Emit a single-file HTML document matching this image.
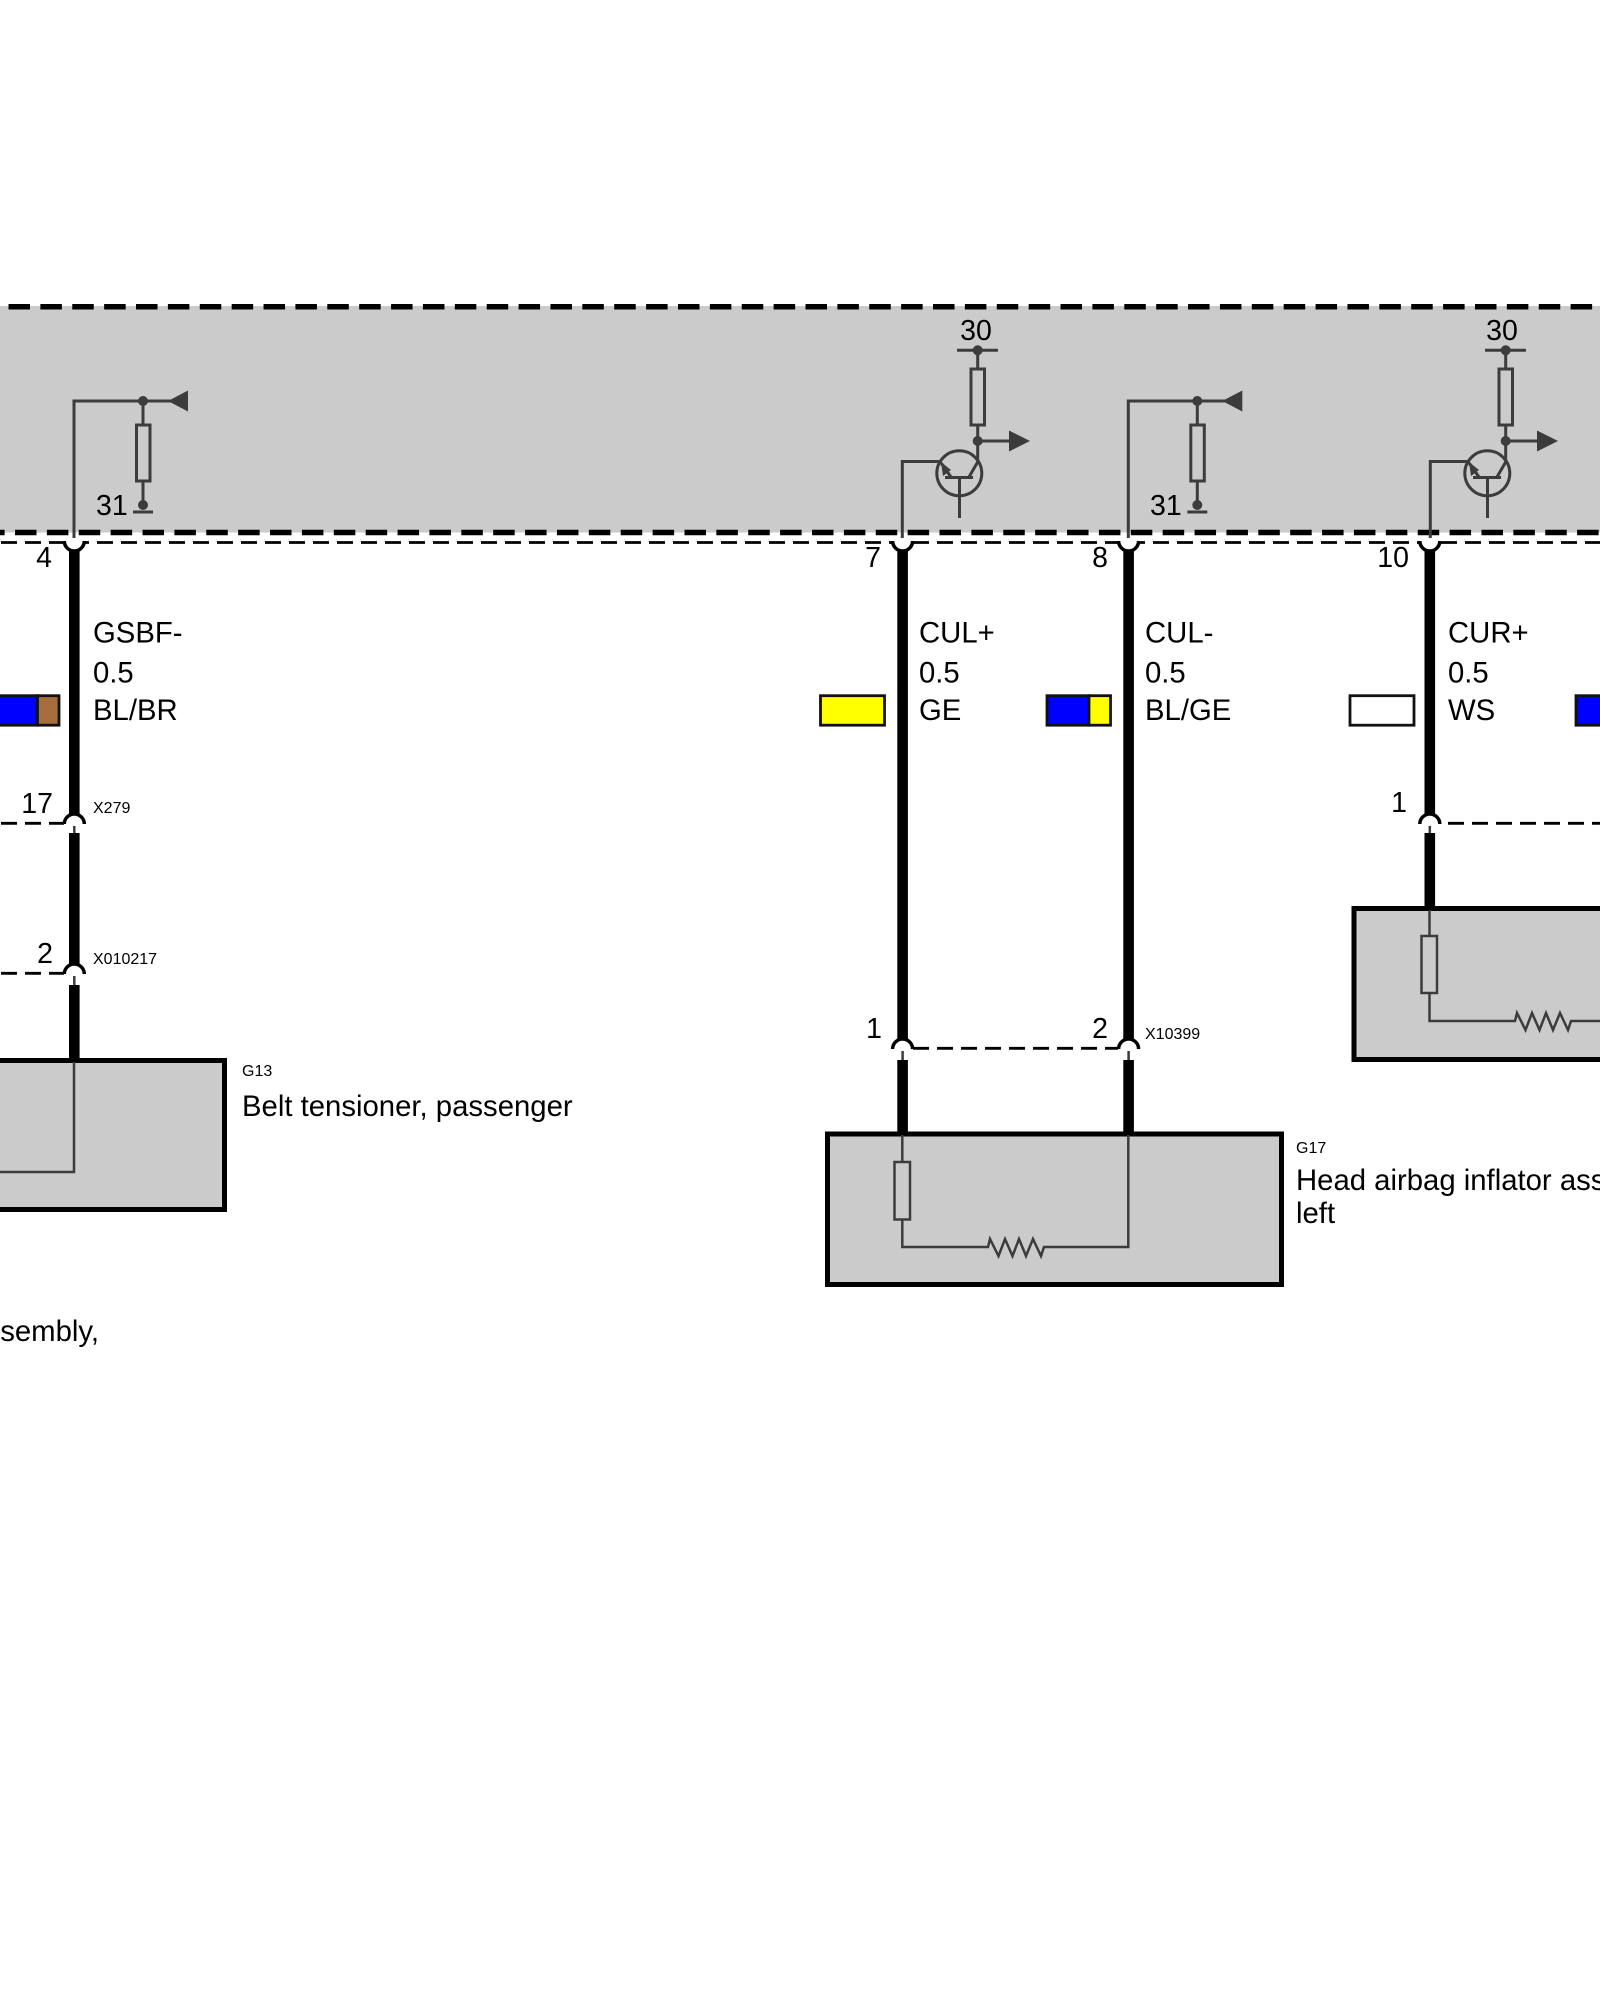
<!DOCTYPE html>
<html><head><meta charset="utf-8"><style>
html,body{margin:0;padding:0;background:#fff}
svg{display:block}
text{font-family:"Liberation Sans",sans-serif;fill:#000}
.l{font-size:29.300px}.p{font-size:28.500px}.s{font-size:16px}
</style></head><body>
<svg width="1600" height="2000" viewBox="0 0 1600 2000" xmlns="http://www.w3.org/2000/svg">
<defs>
<g id="pull" fill="none" stroke="#3c3c3c" stroke-width="3">
<path d="M74 538V401H172"/>
<path d="M143 401V425M143 481V505M133 512H153"/>
<rect x="136.500" y="425" width="13.500" height="56"/>
<circle cx="143" cy="401" r="5" fill="#3c3c3c" stroke="none"/>
<circle cx="143" cy="505" r="5" fill="#3c3c3c" stroke="none"/>
<path d="M168 401L188 390.500V411.500Z" fill="#3c3c3c" stroke="none"/>
</g>
<g id="trans" fill="none" stroke="#3c3c3c" stroke-width="3">
<path d="M902.300 538V461.500H940L951 477"/>
<path d="M957 350.300H998M977.700 350V369M977.700 425V462L969 477M945 477.500H973M959.500 477V518M977.700 441H1012"/>
<rect x="971" y="369" width="13.500" height="56"/>
<circle cx="959.300" cy="473.300" r="22.500"/>
<circle cx="977.700" cy="350.300" r="5" fill="#3c3c3c" stroke="none"/>
<circle cx="977.700" cy="441" r="5" fill="#3c3c3c" stroke="none"/>
<path d="M1030 441L1009 430.500V451.500Z" fill="#3c3c3c" stroke="none"/>
<path d="M941 462L951 470L943 476Z" fill="#3c3c3c" stroke="none"/>
</g>
<g id="top">
<rect x="65" y="536" width="18.600" height="12" fill="#fff"/>
<path d="M64.300 541A10 10 0 0 0 84.300 541" fill="#fff" stroke="#000" stroke-width="3.500"/>
</g>
<path id="arch" d="M64.300 824A10 10 0 0 1 84.300 824" fill="none" stroke="#000" stroke-width="3.500"/>
</defs>

<rect x="0" y="306" width="1600" height="226.500" fill="#cbcbcb"/>
<path d="M0 306.700H1600" stroke="#000" stroke-width="5.500" stroke-dasharray="21.500 10.380" stroke-dashoffset="23.380"/>
<path d="M0 532.500H1600" stroke="#000" stroke-width="5.500" stroke-dasharray="21.500 10.380" stroke-dashoffset="16.880"/>
<path d="M0 542.500H1600" stroke="#000" stroke-width="2.800" stroke-dasharray="16 8" stroke-dashoffset="-1"/>

<use href="#top"/>
<use href="#top" x="828.300"/>
<use href="#top" x="1054.300"/>
<use href="#top" x="1355.500"/>

<use href="#pull"/>
<use href="#pull" x="1054.300"/>
<use href="#trans"/>
<use href="#trans" x="528"/>
<text class="p" x="96" y="515">31</text>
<text class="p" x="1150" y="515">31</text>
<text class="p" x="976" y="340" text-anchor="middle">30</text>
<text class="p" x="1502" y="340" text-anchor="middle">30</text>

<!-- wire 4 -->
<g>
<rect x="69" y="551" width="10.600" height="263" fill="#000"/>
<path d="M0 823.300H64" stroke="#000" stroke-width="2.800" stroke-dasharray="16 8" stroke-dashoffset="-1"/>
<use href="#arch"/>
<path d="M74.300 826V834" stroke="#3c3c3c" stroke-width="2.500"/>
<rect x="69" y="833" width="10.600" height="131" fill="#000"/>
<path d="M0 973.300H64" stroke="#000" stroke-width="2.800" stroke-dasharray="16 8" stroke-dashoffset="-1"/>
<use href="#arch" y="150"/>
<path d="M74.300 976V986" stroke="#3c3c3c" stroke-width="2.500"/>
<rect x="69" y="985" width="10.600" height="75" fill="#000"/>
<rect x="-10" y="1060.500" width="234.500" height="149" fill="#cbcbcb" stroke="#000" stroke-width="5"/>
<path d="M74 1062V1172H0" fill="none" stroke="#3c3c3c" stroke-width="2.500"/>
</g>

<!-- wire 7 and 8 -->
<g>
<rect x="897.300" y="551" width="10.600" height="488" fill="#000"/>
<rect x="1123.300" y="551" width="10.600" height="488" fill="#000"/>
<path d="M913 1048.300H1118" stroke="#000" stroke-width="2.800" stroke-dasharray="16 8"/>
<use href="#arch" x="828.300" y="225"/>
<use href="#arch" x="1054.300" y="225"/>
<path d="M902.600 1051V1061M1128.600 1051V1061" stroke="#3c3c3c" stroke-width="2.500"/>
<rect x="897.300" y="1060" width="10.600" height="73" fill="#000"/>
<rect x="1123.300" y="1060" width="10.600" height="73" fill="#000"/>
<rect x="827.500" y="1134" width="454" height="150.500" fill="#cbcbcb" stroke="#000" stroke-width="5"/>
<g fill="none" stroke="#3c3c3c" stroke-width="2.500">
<path d="M902.300 1135V1162M902.300 1219.500V1247H988L990 1239L998.500 1256L1005 1239L1012.500 1256L1019 1239L1026 1256L1033 1239L1041 1256L1044 1247H1128.300V1135"/>
<rect x="894.500" y="1162" width="15.500" height="57.500"/>
</g>
</g>

<!-- wire 10 -->
<g>
<rect x="1424.500" y="551" width="10.600" height="263" fill="#000"/>
<use href="#arch" x="1355.500"/>
<path d="M1440 823.300H1600" stroke="#000" stroke-width="2.800" stroke-dasharray="16 8" stroke-dashoffset="-8"/>
<path d="M1429.800 826V834" stroke="#3c3c3c" stroke-width="2.500"/>
<rect x="1424.500" y="833" width="10.600" height="75" fill="#000"/>
<rect x="1354" y="908.500" width="300" height="151" fill="#cbcbcb" stroke="#000" stroke-width="5"/>
<g fill="none" stroke="#3c3c3c" stroke-width="2.500">
<path d="M1429.500 910V936M1429.500 993V1021H1515L1517 1013L1525.500 1030L1532 1013L1539.500 1030L1546 1013L1553 1030L1560 1013L1568 1030L1571 1021H1600"/>
<rect x="1421.500" y="936" width="15.500" height="57"/>
</g>
</g>

<!-- colour swatches -->
<g stroke="#111" stroke-width="2.800">
<rect x="-10" y="695.700" width="47.500" height="29.500" fill="#0000ff"/>
<rect x="37.500" y="695.700" width="21.500" height="29.500" fill="#a56e3c"/>
<rect x="820.500" y="695.700" width="64" height="29.500" fill="#ffff00"/>
<rect x="1047" y="695.700" width="42" height="29.500" fill="#0000ff"/>
<rect x="1089" y="695.700" width="21.500" height="29.500" fill="#ffff00"/>
<rect x="1350" y="695.700" width="64" height="29.500" fill="#fff"/>
<rect x="1576" y="695.700" width="40" height="29.500" fill="#0000ff"/>
</g>

<!-- pins -->
<text class="p" x="52" y="567" text-anchor="end">4</text>
<text class="p" x="881" y="567" text-anchor="end">7</text>
<text class="p" x="1108" y="567" text-anchor="end">8</text>
<text class="p" x="1409" y="567" text-anchor="end">10</text>
<text class="p" x="53" y="813" text-anchor="end">17</text>
<text class="p" x="53" y="963" text-anchor="end">2</text>
<text class="p" x="882" y="1038" text-anchor="end">1</text>
<text class="p" x="1108" y="1038" text-anchor="end">2</text>
<text class="p" x="1407" y="812" text-anchor="end">1</text>

<!-- wire labels -->
<text class="l" x="93" y="642.700">GSBF-</text>
<text class="l" x="93" y="682.700">0.5</text>
<text class="l" x="93" y="720">BL/BR</text>
<text class="l" x="919" y="642.700">CUL+</text>
<text class="l" x="919" y="682.700">0.5</text>
<text class="l" x="919" y="720">GE</text>
<text class="l" x="1145" y="642.700">CUL-</text>
<text class="l" x="1145" y="682.700">0.5</text>
<text class="l" x="1145" y="720">BL/GE</text>
<text class="l" x="1448" y="642.700">CUR+</text>
<text class="l" x="1448" y="682.700">0.5</text>
<text class="l" x="1448" y="720">WS</text>

<text class="s" x="93" y="813">X279</text>
<text class="s" x="93" y="964">X010217</text>
<text class="s" x="1145" y="1039">X10399</text>
<text class="s" x="242" y="1076">G13</text>
<text class="s" x="1296" y="1153">G17</text>
<text class="l" x="242" y="1116">Belt tensioner, passenger</text>
<text class="l" x="1296" y="1190">Head airbag inflator assembly,</text>
<text class="l" x="1296" y="1223">left</text>
<text class="l" x="99" y="1341" text-anchor="end">sembly,</text>
</svg>
</body></html>
